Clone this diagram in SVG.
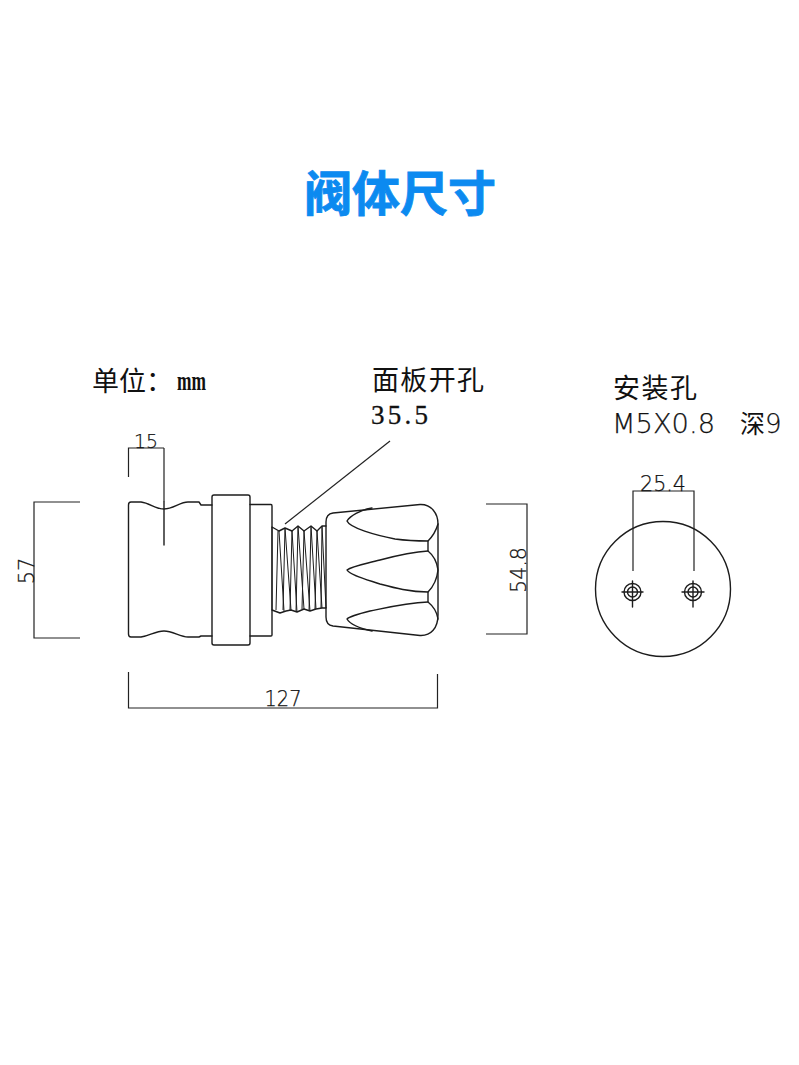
<svg xmlns="http://www.w3.org/2000/svg" width="799" height="1065" viewBox="0 0 799 1065">
<style>
.l{fill:none;stroke:#1c1c1c;stroke-width:1.4;stroke-linejoin:round;stroke-linecap:round}
.t{fill:none;stroke:#1c1c1c;stroke-width:1}
.d{fill:none;stroke:#222;stroke-width:1.200}
.cn{font-family:"Noto Sans CJK SC",sans-serif;font-size:27px;fill:#111;font-weight:400}
.dim{font-family:"DejaVu Sans",sans-serif;font-weight:200;font-size:21px;fill:#111;stroke:#111;stroke-width:.25}
</style>
<rect width="799" height="1065" fill="#fff"/>
<g id="title"><text x="400" y="211" text-anchor="middle" font-family="'Noto Sans CJK SC',sans-serif" font-size="48" font-weight="700" fill="#0c8af0" stroke="#0c8af0" stroke-width=".8">阀体尺寸</text></g>
<g id="unit"><text x="92" y="391" class="cn">单位：</text><text x="177" y="390" font-family="'Liberation Serif',serif" font-weight="700" font-size="28" fill="#111" textLength="29" lengthAdjust="spacingAndGlyphs">mm</text></g>
<g id="panel-label"><text x="372" y="390" class="cn" textLength="112">面板开孔</text><text x="371" y="424" font-family="'Liberation Serif',serif" font-size="27" fill="#111" stroke="#111" stroke-width=".3" textLength="57">35.5</text></g>
<g id="hole-label"><text x="613" y="398" class="cn" textLength="84">安装孔</text><text x="612" y="433" class="dim" style="font-size:26px" textLength="103" lengthAdjust="spacingAndGlyphs">M5X0.8</text><text x="740" y="433" class="cn" style="font-size:25px">深</text><text x="765" y="433" class="dim" style="font-size:26px">9</text></g>
<g id="body">
<path class="l" d="M131 502H141C150 503 155 509 164 509C173 509 180 502 188 502H199L201 505H212M131 637H141C150 636 155 631 164 631C173 631 180 637 188 637H199L201 636H212M131 502Q128.500 502 128.500 505V634Q128.500 637 131 637"/>
<path class="l" d="M164 502V545"/>
</g>
<g id="collar"><rect class="l" x="212" y="495" width="38" height="150" rx="2"/><path class="l" d="M250 504.500H271Q272 504.500 272 506V635Q272 636 271 636H250"/></g>
<g id="thread">
<path class="l" d="M272 527L279 531L285 528L292 531L298 526L304 531L311 526L317 531L322 526H326M272 610L280 613L286 611L291 610L297 612L304 609L310 611L316 609L322 608H326"/>
<path class="t" d="M272 527V610M278 531L276 610M279 531L284 611M285 528L283 610M285 528L291 610M292 531L290 610M292 531L297 612M298 526L296 612M298 526L304 609M304 531L302 609M304 531L310 611M311 526L309 611M311 526L316 609M317 531L315 609M317 531L322 608M322 526L321 608M322 526L326 608"/>
</g>
<g id="knob">
<path class="l" d="M326 610V522Q326 514 333 513L420 504.500C431 504 438 513 438 524V615C438 628 431 636 420 635.500L333 626Q326 625 326 617V610"/>
<path class="l" d="M438 524C436 531 432 537 428 541V551C433 555 437 562 438 570C437 579 433 587 428 592V602C433 606 437 612 438 619"/>
<path class="l" d="M372 508C360 510 350 516 347 521C350 528 375 535 395 539C410 541 420 541 428 541M428 551C410 552 395 556 380 560C365 564 352 566 347 570C350 575 365 579 380 584C395 588 410 592 428 592M428 602C405 603 385 608 370 611C358 614 350 616 347 619C350 624 358 628 372 631"/>
</g>
<g id="connectors">
<path class="d" d="M128.500 477V448H164M164 448V502"/>
<path class="d" d="M80 502H34V638H80"/>
<path class="d" d="M486 504H527V634H486"/>
<path class="d" d="M128.500 672V708H437.500V674"/>
<path class="d" d="M390 441L285 524"/>
<path class="d" d="M633 571V491H694V571"/>
</g>
<g id="dimension-labels">
<text x="146" y="448" class="dim" text-anchor="middle" style="font-size:19px" textLength="24" lengthAdjust="spacingAndGlyphs">15</text>
<text transform="translate(34 571) rotate(-90)" class="dim" text-anchor="middle" style="font-size:21px">57</text>
<text transform="translate(526 570) rotate(-90)" class="dim" text-anchor="middle" style="font-size:21px" textLength="46" lengthAdjust="spacingAndGlyphs">54.8</text>
<text x="283" y="706" class="dim" text-anchor="middle" style="font-size:21px" textLength="37" lengthAdjust="spacingAndGlyphs">127</text>
<text x="663" y="491" class="dim" text-anchor="middle" style="font-size:21px" textLength="46" lengthAdjust="spacingAndGlyphs">25.4</text>
</g>
<g id="mount">
<circle class="l" cx="663" cy="589" r="67.500"/>
<g id="hole-left"><circle class="l" cx="632.500" cy="592" r="8.500"/><circle class="l" cx="632.500" cy="592" r="5"/><path class="l" d="M622 592H643M632.500 581V607"/></g>
<g id="hole-right"><circle class="l" cx="693" cy="592" r="8.500"/><circle class="l" cx="693" cy="592" r="5"/><path class="l" d="M682 592H704M693 581V607"/></g>
</g>
</svg>
